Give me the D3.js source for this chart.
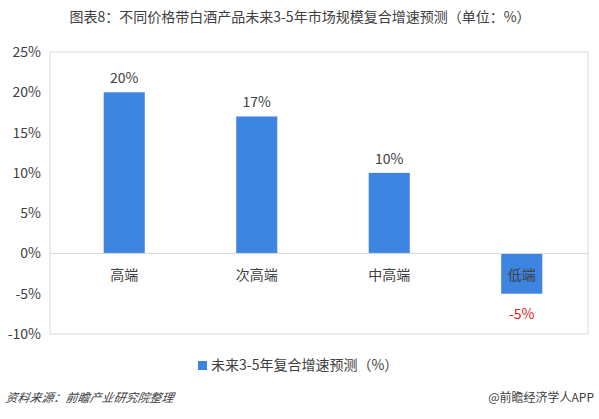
<html>
<script src="https://d3js.org/d3.v7.min.js"></script>
<style>
body { margin: 0; background: #fff; }
text { font-family: "Noto Sans CJK SC", sans-serif; fill: #404040; }
</style>
<body>
<div id="chart"></div>
<script>
var categories = ["高端", "次高端", "中高端", "低端"];
var values = [20, 17, 10, -5];
var yTicks = [25, 20, 15, 10, 5, 0, -5, -10];

var svg = d3.select("#chart").append("svg").attr("width", 599).attr("height", 419);

var x = d3.scaleBand().domain(categories).range([58, 588]).paddingInner(0.69).paddingOuter(0.345);
var y = d3.scaleLinear().domain([-10, 25]).range([334, 52]);

svg.append("text").attr("x", 300).attr("y", 22).attr("text-anchor", "middle")
  .style("font-size", "14px").text("图表8：不同价格带白酒产品未来3-5年市场规模复合增速预测（单位：%）");

// plot frame
svg.append("rect").attr("x", 50).attr("y", y(25)).attr("width", 538).attr("height", y(-10) - y(25))
  .attr("fill", "none").attr("stroke", "#d9d9d9");

svg.append("g").attr("transform", "translate(44,0)")
  .call(d3.axisLeft(y).tickValues(yTicks).tickFormat(function(d) { return d + "%"; }).tickSize(0))
  .call(function(g) { g.select(".domain").remove(); })
  .selectAll("text").style("font-size", "14px").attr("fill", "#404040")
  .style("font-family", "'Noto Sans CJK SC', sans-serif");

svg.selectAll(".bar").data(values).enter().append("rect")
  .attr("x", function(d, i) { return x(categories[i]); })
  .attr("width", x.bandwidth())
  .attr("y", function(d) { return y(Math.max(0, d)); })
  .attr("height", function(d) { return Math.abs(y(d) - y(0)); })
  .attr("fill", "#3d85e0");

svg.append("line").attr("x1", 50).attr("x2", 588).attr("y1", y(0)).attr("y2", y(0)).attr("stroke", "#d9d9d9");

svg.selectAll(".val").data(values).enter().append("text")
  .attr("x", function(d, i) { return x(categories[i]) + x.bandwidth() / 2; })
  .attr("y", function(d) { return d >= 0 ? y(d) - 9 : y(d) + 25; })
  .attr("text-anchor", "middle").style("font-size", "14px")
  .style("fill", function(d) { return d < 0 ? "#e02020" : "#404040"; })
  .text(function(d) { return d + "%"; });

svg.selectAll(".cat").data(categories).enter().append("text")
  .attr("x", function(d) { return x(d) + x.bandwidth() / 2; })
  .attr("y", y(0) + 27).attr("text-anchor", "middle").style("font-size", "14px")
  .text(function(d) { return d; });

svg.append("rect").attr("x", 198).attr("y", 361).attr("width", 9).attr("height", 9).attr("fill", "#3d85e0");
svg.append("text").attr("x", 211).attr("y", 370).style("font-size", "14px").text("未来3-5年复合增速预测（%）");

svg.append("text").attr("x", 6).attr("y", 402).style("font-size", "12px").style("font-style", "italic")
  .attr("transform", "skewX(-10) translate(70,0)").text("资料来源：前瞻产业研究院整理");
svg.append("text").attr("x", 594).attr("y", 402).attr("text-anchor", "end").style("font-size", "12px")
  .text("@前瞻经济学人APP");
</script>
</body>
</html>
